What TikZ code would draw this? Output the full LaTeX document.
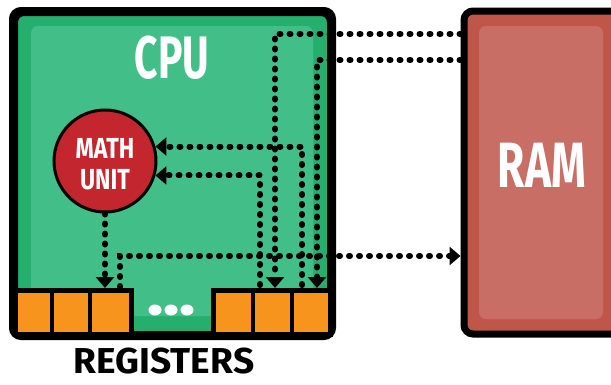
\documentclass[tikz,border=0pt]{standalone}
\usepackage{fontspec}
\usepackage{graphicx}
\setmainfont{Fira Sans}
\usetikzlibrary{arrows.meta,calc}
\definecolor{greenD}{RGB}{37,175,110}
\definecolor{greenL}{RGB}{66,191,136}
\definecolor{mathred}{RGB}{196,38,46}
\definecolor{regorange}{RGB}{247,148,30}
\definecolor{ramD}{RGB}{192,86,73}
\definecolor{ramL}{RGB}{200,110,100}
\begin{document}
\begin{tikzpicture}[x=1pt,y=-1pt,
  cpubox/.style={draw=black, line width=6pt, fill=greenD, rounded corners=9pt, inner sep=0pt},
  innerbox/.style={fill=#1, rounded corners=7pt, inner sep=0pt, draw=none},
  rambox/.style={draw=black, line width=7pt, fill=ramD, rounded corners=9pt, inner sep=0pt},
  regbox/.style={draw=black, line width=5pt, fill=regorange, inner sep=0pt},
  mathbox/.style={circle, draw=black, line width=3pt, fill=mathred, inner sep=0pt, minimum size=102pt},
  whitetext/.style={text=white, inner sep=0pt, font=\bfseries},
  dotline/.style={line width=6pt, line cap=round, dash pattern=on 1pt off 9pt, -{Triangle[length=11pt,width=18pt]}},
  divider/.style={line width=4pt, draw=black}
]
\useasboundingbox (0,0) rectangle (611,384);
\clip (0,0) rectangle (611,384);

% CPU
\node[cpubox, minimum width=315pt, minimum height=321pt] (cpu) at (172.5,173.5) {};
\node[innerbox=greenL, minimum width=282pt, minimum height=290pt] (cpuin) at (172,171) {};
\node[whitetext] (cputitle) at (172,58) {\fontsize{60}{60}\selectfont\scalebox{0.68}[1]{CPU}};

% RAM
\node[rambox, minimum width=190pt, minimum height=323pt] (ram) at (559,172.5) {};
\node[innerbox=ramL, minimum width=124pt, minimum height=293pt] (ramin) at (541,172.5) {};
\node[whitetext] (ramtitle) at (542,165) {\fontsize{64}{64}\selectfont\scalebox{0.69}[1]{RAM}};

% registers
\node[regbox, minimum width=116pt, minimum height=44pt] (regL) at (73,312) {};
\node[regbox, minimum width=117pt, minimum height=44pt] (regR) at (271.5,312) {};
\draw[divider] (52,290) -- (52,334);
\draw[divider] (90,290) -- (90,334);
\draw[divider] (253,290) -- (253,334);
\draw[divider] (292,290) -- (292,334);
\draw[black, line width=6pt, rounded corners=9pt] (cpu.north west) rectangle (cpu.south east);
\fill[white] (155,310) ellipse (6.5pt and 5.5pt) (171,310) ellipse (6.5pt and 5.5pt) (187,310) ellipse (6.5pt and 5.5pt);
\node[inner sep=0pt, font=\bfseries] (reglabel) at (164,361) {\fontsize{36}{36}\selectfont\scalebox{1.03}[1]{REGISTERS}};

% math unit
\node[mathbox] (math) at (105,161) {};
\node[whitetext] (mathtxt) at (105,148) {\fontsize{29}{29}\selectfont\scalebox{0.8}[1]{MATH}};
\node[whitetext] (unittxt) at (105,180) {\fontsize{29}{29}\selectfont\scalebox{0.8}[1]{UNIT}};

% connector levels and register ends
\coordinate (L1) at (0,34);
\coordinate (L2) at (0,60);
\coordinate (L5) at (0,256);
\coordinate (r1) at (275,288);
\coordinate (r2) at (317,288);
\coordinate (r3) at (302,285);
\coordinate (r4) at (260,285);
\coordinate (l3) at (106,288);
\coordinate (l4) at (120,287);

% connectors
\draw[dotline] (ram.west |- L1) -| (r1);
\draw[dotline] (ram.west |- L2) -| (r2);
\draw[dotline] (r3) |- (math.16.6);
\draw[dotline] (r4) |- (math.-16.6);
\draw[dotline] (math.south) -- (math.south |- l3);
\draw[dotline] (l4) |- (ram.west |- L5);
\end{tikzpicture}
\end{document}
